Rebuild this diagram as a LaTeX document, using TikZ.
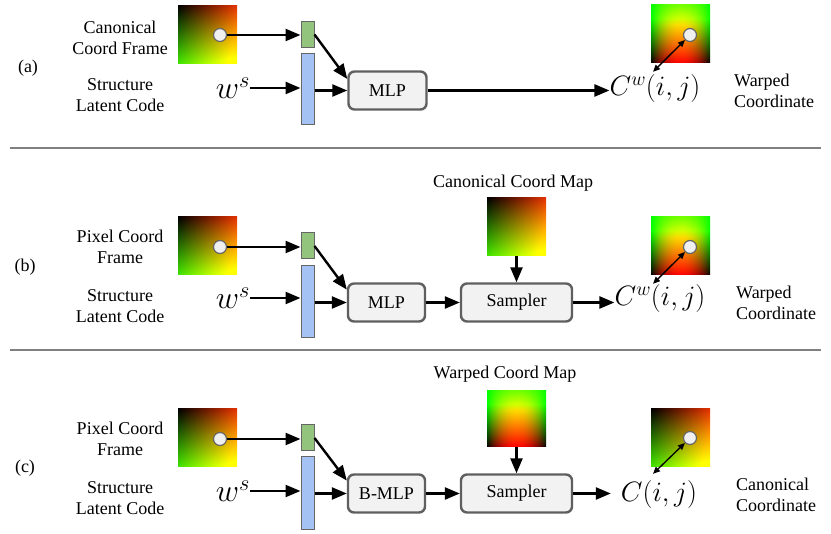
\documentclass[tikz,border=0pt]{standalone}
\usepackage{fix-cm}
\usepackage[no-math]{fontspec}
\setmainfont{Liberation Serif}
\usetikzlibrary{arrows.meta,calc}
\definecolor{boxgreen}{HTML}{93C47D}
\definecolor{boxblue}{HTML}{A4C2F4}
\definecolor{boxedge}{HTML}{666666}
\definecolor{procfill}{HTML}{F2F2F2}
\definecolor{procedge}{HTML}{5F5F5F}
\definecolor{sepgray}{HTML}{808080}
\pgfdeclarefunctionalshading{canon}{\pgfpoint{0bp}{0bp}}{\pgfpoint{100bp}{100bp}}{}{
 75 exch sub 50 div dup 0 lt {pop 0} if dup 1 gt {pop 1} if
 exch 25 sub 50 div dup 0 lt {pop 0} if dup 1 gt {pop 1} if
 2 copy 0.9 mul exch 0.25 mul add dup 1 gt {pop 1} if
 3 1 roll 0.2 mul exch 0.9 mul add dup 1 gt {pop 1} if
 0
}
\pgfdeclarefunctionalshading{warped}{\pgfpoint{0bp}{0bp}}{\pgfpoint{100bp}{100bp}}{}{
 25 sub 50 div dup 0 lt {pop 0} if dup 1 gt {pop 1} if
 dup 1.3 mul dup 1 gt {pop 1} if
 exch 1 exch sub 1.6 mul 0.45 add dup 1 gt {pop 1} if
 3 -1 roll 50 sub 25 div dup mul 1 exch sub dup 0 lt {pop 0} if
 mul exch 0
}
\tikzset{
 txt/.style={font=\fontsize{18}{21}\selectfont, align=center, inner sep=0pt},
 rtxt/.style={font=\fontsize{18}{21}\selectfont, align=left, inner sep=0pt, anchor=west},
 bigmath/.style={font=\fontsize{32}{32}\selectfont, inner sep=0pt},
 outmath/.style={font=\fontsize{28}{28}\selectfont, inner sep=0pt},
 arr/.style={line width=2.4pt, -{Triangle[length=15pt,width=12pt]}},
 darr/.style={line width=1.3pt, {Triangle[length=7pt,width=6pt]}-{Triangle[length=7pt,width=6pt]}},
 gbox/.style={draw=boxedge, line width=1pt, fill=boxgreen, minimum width=13pt, minimum height=26pt, inner sep=0pt},
 bbox/.style={draw=boxedge, line width=1pt, fill=boxblue, minimum width=13pt, inner sep=0pt},
 proc/.style={draw=procedge, line width=2.4pt, rounded corners=6pt, fill=procfill, minimum height=38pt, font=\fontsize{18}{21}\selectfont, inner sep=0pt},
 dot/.style={circle, draw=boxedge, fill=black!6, line width=1.2pt, minimum size=13pt, inner sep=0pt},
 img/.style={minimum width=59pt, minimum height=58pt, inner sep=0pt, shade},
 sep/.style={draw=sepgray, line width=1.5pt}
}
\begin{document}
\begin{tikzpicture}[x=1pt,y=-1pt]
\useasboundingbox (0,0) rectangle (831,534);

% separators
\coordinate (s1l) at (10,148); \coordinate (s1r) at (821,148);
\coordinate (s2l) at (10,350); \coordinate (s2r) at (821,350);
\draw[sep] (s1l) -- (s1r);
\draw[sep] (s2l) -- (s2r);

% ---------------- (a) ----------------
\node[txt] (la) at (28,68) {(a)};
\node[txt] (t1a) at (120,37.5) {Canonical\\Coord Frame};
\node[txt] (t2a) at (120,95.5) {Structure\\Latent Code};
\node[img, shading=canon] (ia) at (207.5,34.5) {};
\node[dot] (da) at (220,35) {};
\node[gbox] (ga) at (307.5,34.5) {};
\node[bbox, minimum height=71pt] (ba) at (307.5,89.5) {};
\node[bigmath] (wsa) at (233,88) {$w^s$};
\node[proc, minimum width=78pt] (mlpa) at (387.5,90.5) {MLP};
\node[outmath] (cwa) at (655,89) {$C^w(i,j)$};
\node[img, shading=warped] (wa) at (680.5,34) {};
\node[dot] (dwa) at (690,35) {};
\node[rtxt] (oa) at (734,90.5) {Warped\\Coordinate};
\draw[arr] (da) -- (da -| ga.west);
\draw[arr] (wsa.east) -- (wsa.east -| ba.west);
\draw[arr] (ba.east |- mlpa.west) -- (mlpa.west);
\draw[arr] (ga.east) -- (mlpa.164);
\draw[arr] (mlpa.east) -- (mlpa.east -| cwa.west);
\draw[darr] ($(cwa.north)+(-2,-3)$) -- (dwa);

% ---------------- (b) ----------------
\node[txt] (lb) at (25,267) {(b)};
\node[txt] (t1b) at (120,247) {Pixel Coord\\Frame};
\node[txt] (t2b) at (120,306) {Structure\\Latent Code};
\node[img, shading=canon] (ib) at (207.5,246) {};
\node[dot] (db) at (220,247) {};
\node[gbox] (gb) at (307.5,246) {};
\node[bbox, minimum height=72pt] (bb) at (307.5,302) {};
\node[bigmath] (wsb) at (233,298) {$w^s$};
\node[proc, minimum width=77pt] (mlpb) at (386.5,302.5) {MLP};
\node[proc, minimum width=111pt] (smpb) at (516.5,302.5) {Sampler};
\node[txt] (mtb) at (513,183) {Canonical Coord Map};
\node[img, shading=canon] (mb) at (516.5,227) {};
\node[outmath] (cwb) at (660,299) {$C^w(i,j)$};
\node[img, shading=warped] (wb) at (680.5,246) {};
\node[dot] (dwb) at (690,247) {};
\node[rtxt] (ob) at (736,303) {Warped\\Coordinate};
\draw[arr] (db) -- (db -| gb.west);
\draw[arr] (wsb.east) -- (wsb.east -| bb.west);
\draw[arr] (bb.east |- mlpb.west) -- (mlpb.west);
\draw[arr] (gb.east) -- (mlpb.162);
\draw[arr] (mlpb.east) -- (smpb.west);
\draw[arr] (mb.south) -- (smpb.north);
\draw[arr] (smpb.east) -- (smpb.east -| cwb.west);
\draw[darr] ($(cwb.north)+(-7,-1)$) -- (dwb);

% ---------------- (c) ----------------
\node[txt] (lc) at (25,468) {(c)};
\node[txt] (t1c) at (120,439) {Pixel Coord\\Frame};
\node[txt] (t2c) at (120,498) {Structure\\Latent Code};
\node[img, shading=canon] (ic) at (207.5,438) {};
\node[dot] (dc) at (220,439) {};
\node[gbox] (gc) at (307.5,438) {};
\node[bbox, minimum height=73pt] (bc) at (307.5,493.5) {};
\node[bigmath] (wsc) at (233,491) {$w^s$};
\node[proc, minimum width=77pt] (mlpc) at (386.5,493.5) {B-MLP};
\node[proc, minimum width=111pt] (smpc) at (516.5,493.5) {Sampler};
\node[txt] (mtc) at (505,374) {Warped Coord Map};
\node[img, shading=warped, minimum height=56pt] (mc) at (516.5,419) {};
\node[outmath, inner xsep=10pt] (cc) at (659,495) {$C(i,j)$};
\node[img, shading=canon] (cic) at (680.5,438) {};
\node[dot] (dcc) at (690,438) {};
\node[rtxt] (oc) at (736,495) {Canonical\\Coordinate};
\draw[arr] (dc) -- (dc -| gc.west);
\draw[arr] (wsc.east) -- (wsc.east -| bc.west);
\draw[arr] (bc.east |- mlpc.west) -- (mlpc.west);
\draw[arr] (gc.east) -- (mlpc.162);
\draw[arr] (mlpc.east) -- (smpc.west);
\draw[arr] (mc.south) -- (smpc.north);
\draw[arr] (smpc.east) -- (smpc.east -| cc.west);
\draw[darr] ($(cc.north)+(-6,-7)$) -- (dcc);
\end{tikzpicture}
\end{document}
